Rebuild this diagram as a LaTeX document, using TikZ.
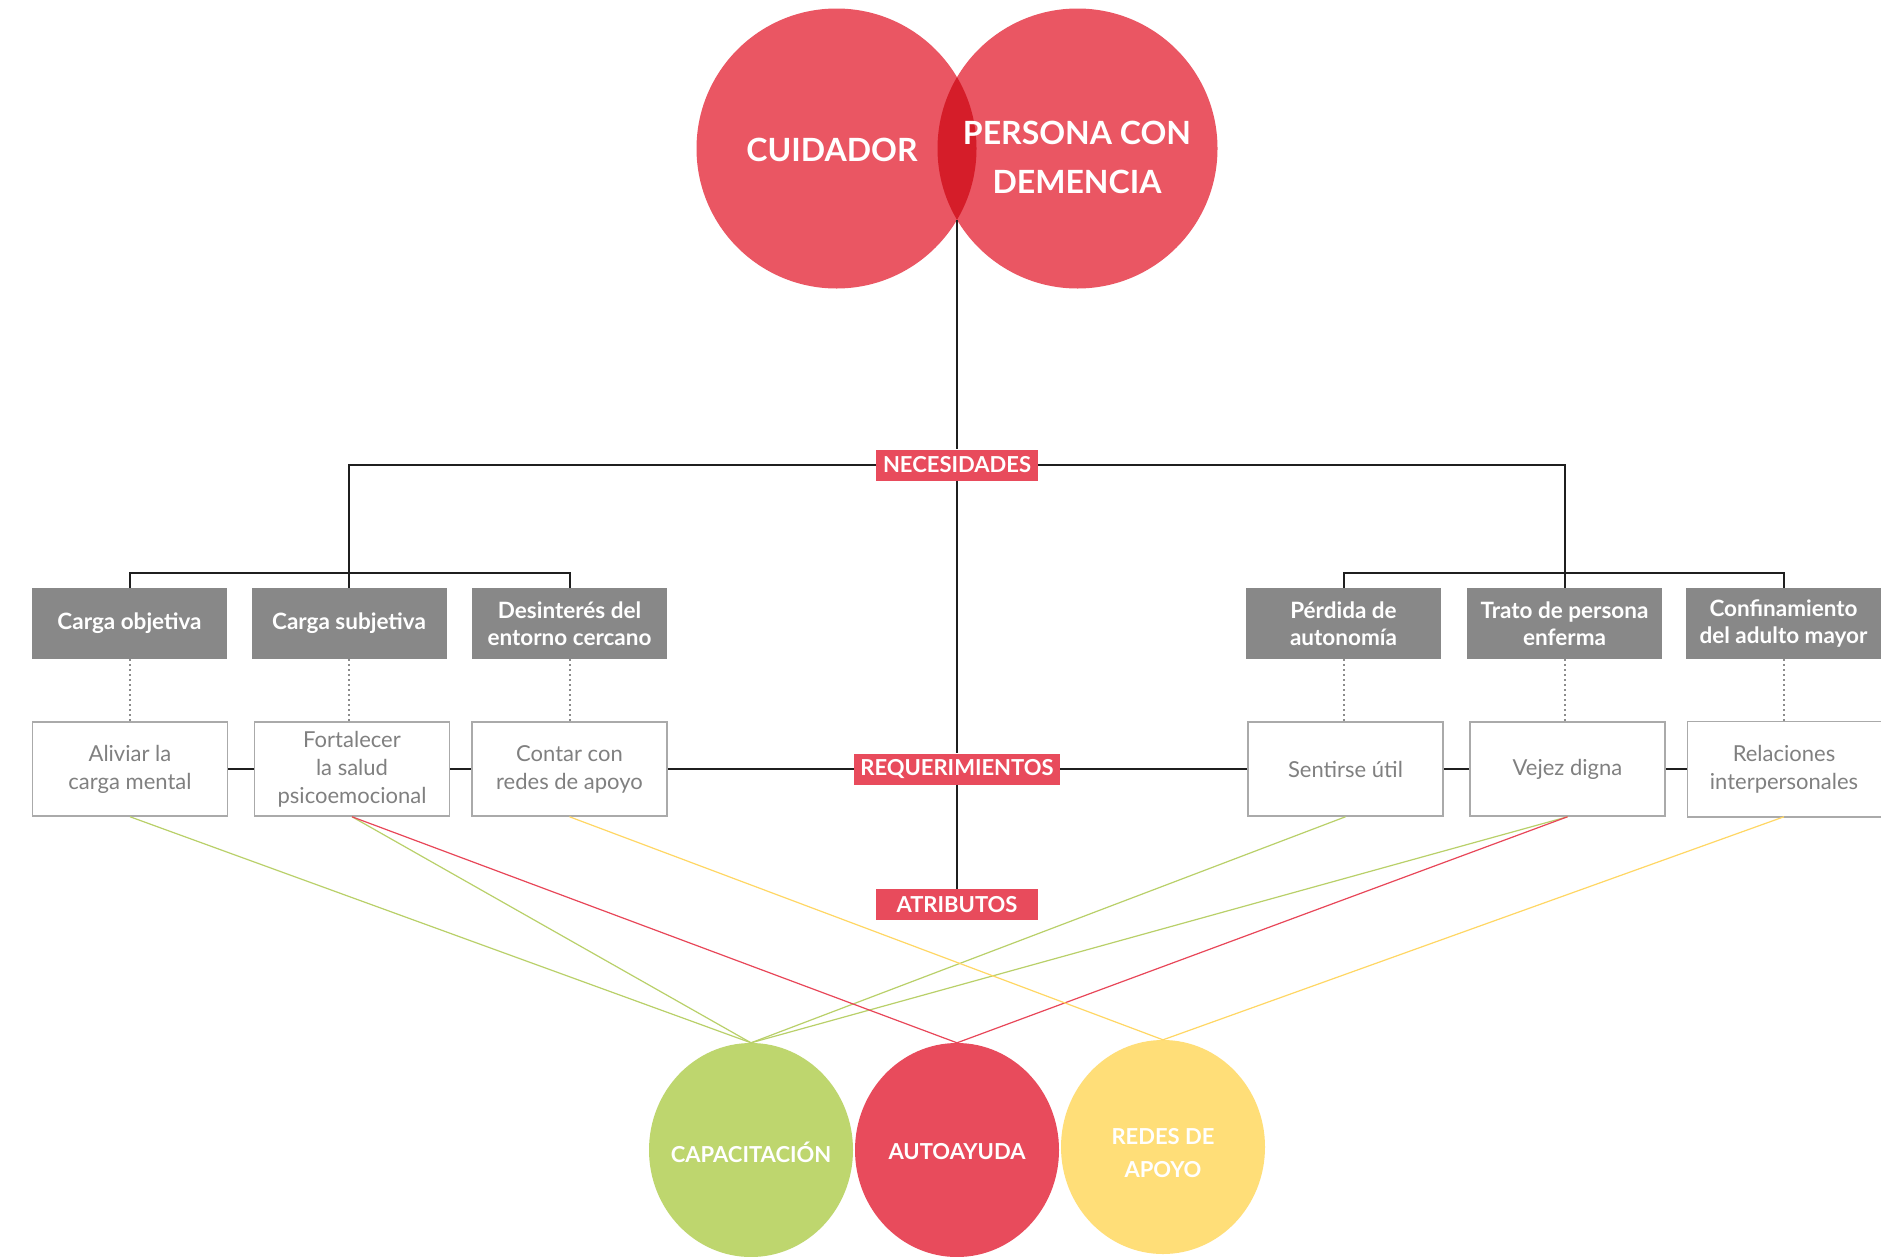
\documentclass[tikz,border=0pt]{standalone}
\usepackage{fontspec}
\setmainfont{Lato}
\usetikzlibrary{shapes.geometric}
\definecolor{topred}{RGB}{234,86,99}
\definecolor{lensred}{RGB}{213,29,41}
\definecolor{labred}{RGB}{232,75,92}
\definecolor{cgreen}{RGB}{190,214,110}
\definecolor{cyellow}{RGB}{255,222,120}
\definecolor{boxgray}{RGB}{136,136,136}
\definecolor{txtgray}{RGB}{128,128,128}
\definecolor{bordgray}{RGB}{170,170,170}
\definecolor{lgreen}{RGB}{185,208,105}
\definecolor{lred}{RGB}{232,70,88}
\definecolor{lyellow}{RGB}{255,215,100}
\begin{document}
\begin{tikzpicture}[x=1pt,y=-1pt,
  graybox/.style={fill=boxgray, text=white, minimum width=195, minimum height=71, inner sep=0, align=center, font=\fontsize{22.5}{27}\selectfont\bfseries},
  whitebox/.style={draw=bordgray, line width=1.5pt, fill=white, text=txtgray, minimum width=195, minimum height=94, inner sep=0, align=center, font=\fontsize{22}{28}\selectfont},
  redlabel/.style={fill=labred, text=white, inner sep=0, minimum height=31, font=\fontsize{22}{22}\selectfont\bfseries},
  bigtitle/.style={text=white, align=center, font=\fontsize{32}{49}\selectfont\bfseries},
  attr/.style={ellipse, minimum width=204, minimum height=214, inner sep=0},
  attrtext/.style={text=white, align=center, inner sep=0, font=\fontsize{22}{33}\selectfont\bfseries},
  conn/.style={line width=2pt, black!88},
  dots/.style={draw=black!45, line width=2pt, dash pattern=on 2pt off 3pt},
  tie/.style={line width=1.2pt}
]
\useasboundingbox (0,0) rectangle (1902,1256);
\fill[white] (0,0) rectangle (1902,1256);

% top circles
\node[circle, fill=topred, minimum size=280, inner sep=0] (cuid) at (836.5,148.5) {};
\node[circle, fill=topred, minimum size=280, inner sep=0] (pers) at (1077.5,148.5) {};
\begin{scope}
  \clip (836.5,148.5) circle (140);
  \fill[lensred] (1077.5,148.5) circle (140);
\end{scope}
\coordinate (lensb) at (957,220);
\node[bigtitle] (cuidt) at (832,150) {CUIDADOR};
\node[bigtitle] (perst) at (1077,157.5) {PERSONA CON\\DEMENCIA};

% red labels
\node[redlabel, minimum width=162] (nec) at (957,465) {NECESIDADES};
\node[redlabel, minimum width=206] (req) at (957,769) {REQUERIMIENTOS};
\node[redlabel, minimum width=162] (atr) at (957,904.5) {ATRIBUTOS};

% gray boxes
\node[graybox] (obj) at (129.5,623.5) {Carga objetiva};
\node[graybox] (subj) at (349,623.5) {Carga subjetiva};
\node[graybox] (des) at (569.5,623.5) {Desinterés del\\entorno cercano};
\node[graybox] (per) at (1343.5,623.5) {Pérdida de\\autonomía};
\node[graybox] (tra) at (1564.5,623.5) {Trato de persona\\enferma};
\node[graybox] (con) at (1783.5,623.5) {Confinamiento\\del adulto mayor};

% white boxes
\node[whitebox] (ali) at (130,769) {Aliviar la\\carga mental};
\node[whitebox] (fort) at (352,769) {Fortalecer\\la salud\\psicoemocional};
\node[whitebox] (cont) at (569.5,769) {Contar con\\redes de apoyo};
\node[whitebox] (sent) at (1345.5,769) {Sentirse útil};
\node[whitebox] (vej) at (1567.5,769) {Vejez digna};
\node[whitebox, draw=none, minimum width=192] (rel) at (1784,769) {Relaciones\\interpersonales};
\draw[bordgray, line width=1.5pt] (rel.north east) -- (rel.north west) -- (rel.south west) -- (rel.south east);

% bottom circles
\node[attr, fill=cgreen] (cap) at (751,1150) {};
\node[attr, fill=labred] (auto) at (957,1150) {};
\node[attr, fill=cyellow] (red) at (1163,1147) {};
\node[attrtext] (capt) at (751,1152) {CAPACITACIÓN};
\node[attrtext] (autot) at (957,1152) {AUTOAYUDA};
\node[attrtext] (redt) at (1163,1153) {REDES DE\\APOYO};

% main connectors
\draw[conn] (lensb) -- (nec.north);
\draw[conn] (nec.south) -- (req.north);
\draw[conn] (req.south) -- (atr.north);
\draw[conn] (nec.west) -| (subj.north);
\draw[conn] (nec.east) -| (tra.north);
\draw[conn] (obj.north) -- ++(0,-15) -| (des.north);
\draw[conn] (per.north) -- ++(0,-15) -| (con.north);
\draw[conn] (ali.east) -- (fort.west);
\draw[conn] (fort.east) -- (cont.west);
\draw[conn] (cont.east) -- (req.west);
\draw[conn] (req.east) -- (sent.west);
\draw[conn] (sent.east) -- (vej.west);
\draw[conn] (vej.east) -- (rel.west);

% dotted
\draw[dots] (obj.south) -- (obj.south |- ali.north);
\draw[dots] (subj.south) -- (subj.south |- fort.north);
\draw[dots] (des.south) -- (des.south |- cont.north);
\draw[dots] (per.south) -- (per.south |- sent.north);
\draw[dots] (tra.south) -- (tra.south |- vej.north);
\draw[dots] (con.south) -- (con.south |- rel.north);

% attribute ties
\draw[tie, lgreen] (ali.south) -- (cap.north);
\draw[tie, lgreen] (fort.south) -- (cap.north);
\draw[tie, lgreen] (sent.south) -- (cap.north);
\draw[tie, lgreen] (vej.south) -- (cap.north);
\draw[tie, lred] (fort.south) -- (auto.north);
\draw[tie, lred] (vej.south) -- (auto.north);
\draw[tie, lyellow] (cont.south) -- (red.north);
\draw[tie, lyellow] (rel.south) -- (red.north);
\end{tikzpicture}
\end{document}
